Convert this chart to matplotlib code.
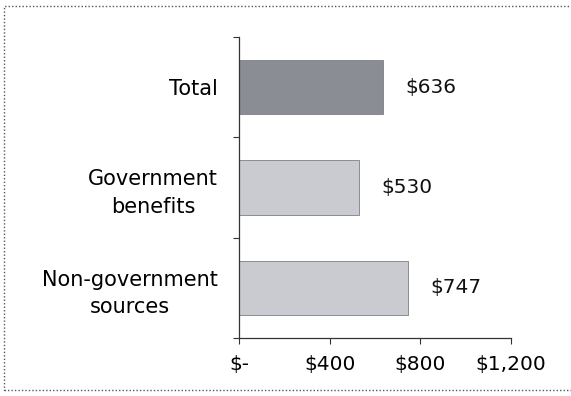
import matplotlib.pyplot as plt
from matplotlib.patches import Rectangle
from matplotlib.ticker import FixedLocator

categories = ['Total', 'Government\nbenefits', 'Non-government\nsources']
values = [636, 530, 747]
value_labels = ['$636', '$530', '$747']
xticks = [0, 400, 800, 1200]
xtick_labels = ['$-', '$400', '$800', '$1,200']
bar_colors = ['#8b8d94', '#cacbd0', '#cacbd0']

plt.rcParams['font.family'] = 'DejaVu Sans'
fs = 14.5

fig = plt.figure(figsize=(5.71, 3.96), dpi=100)
ax = fig.add_axes([0.4186, 0.1465, 0.895 - 0.4186, 0.9066 - 0.1465])

ypos = list(range(len(categories)))
ax.barh(ypos, values, height=0.54, color=bar_colors, edgecolor='#7d7f86', linewidth=0.6)

for y, v, lab in zip(ypos, values, value_labels):
    ax.annotate(lab, (v, y), xytext=(16, 0), textcoords='offset points',
                ha='left', va='center', fontsize=fs, color='#111111')

ax.set_xlim(0, 1200)
ax.set_ylim(2.5, -0.5)
ax.set_xticks(xticks)
ax.set_xticklabels(xtick_labels, fontsize=fs)
ax.set_yticks(ypos)
ax.set_yticklabels(categories, fontsize=15, multialignment='center', linespacing=1.45)
ax.yaxis.set_minor_locator(FixedLocator([-0.5, 0.5, 1.5, 2.5]))
ax.tick_params(axis='y', which='major', length=0, pad=15)
ax.tick_params(axis='y', which='minor', length=4, width=0.8, color='#333333')
ax.tick_params(axis='x', length=4, width=0.8, color='#333333', pad=8)

for s in ['top', 'right']:
    ax.spines[s].set_visible(False)
for s in ['left', 'bottom']:
    ax.spines[s].set_color('#333333')
    ax.spines[s].set_linewidth(0.9)

# dotted frame around the figure
fig.patches.append(Rectangle((0.007, 0.016), 1.2, 0.97, transform=fig.transFigure,
                             fill=False, linestyle=(0, (1, 1.5)), linewidth=1.0,
                             edgecolor='#555555'))

fig.savefig('out.png', dpi=100)
